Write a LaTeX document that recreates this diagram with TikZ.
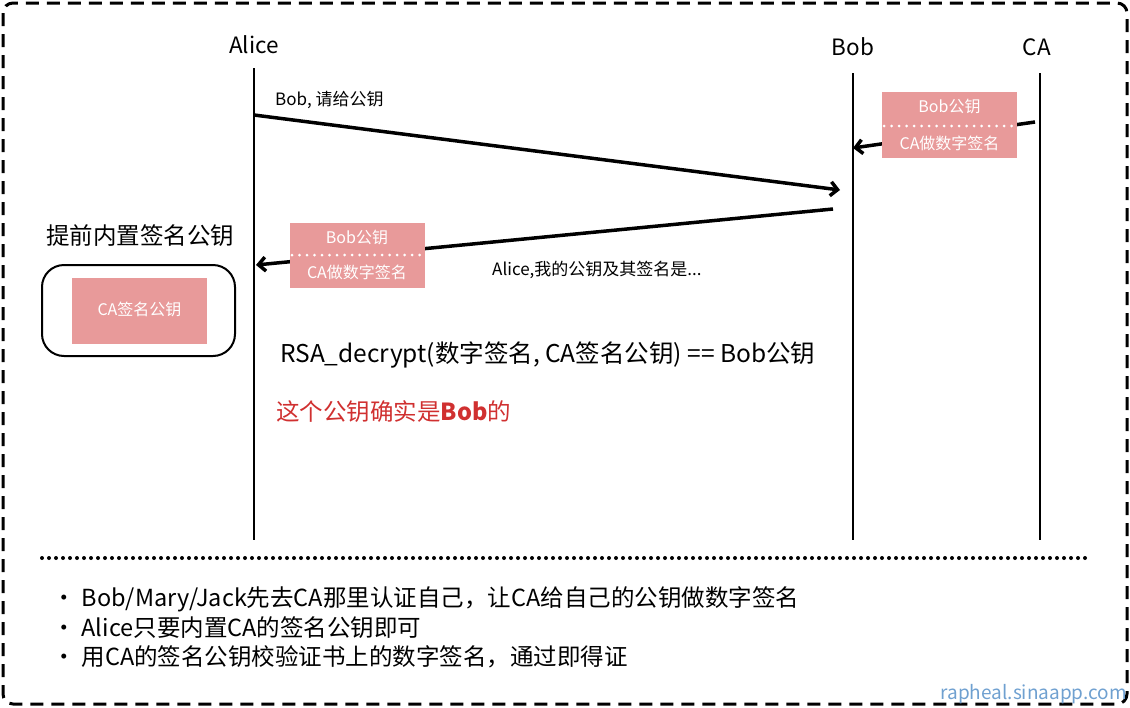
\documentclass[tikz,border=0pt]{standalone}
\usepackage{fontspec}
\setmainfont{Noto Sans CJK SC}
\usetikzlibrary{arrows.meta}
\definecolor{pinkk}{RGB}{232,154,154}
\definecolor{redtxt}{RGB}{208,48,48}
\definecolor{bluetxt}{RGB}{111,160,208}
\tikzset{
  lifeline/.style={line width=2pt},
  msg/.style={line width=3.5pt,-{Straight Barb[length=7pt,width=14pt]}},
  pinkbox/.style={fill=pinkk,draw=none,inner sep=0pt},
  boxtxt/.style={text=white,font=\fontsize{16}{18}\selectfont,inner sep=0pt},
  actor/.style={font=\fontsize{22.5}{26}\selectfont,inner sep=0pt},
  wdots/.style={white,line width=3pt,line cap=round,dash pattern=on 0pt off 7.5pt},
  lbl/.style={font=\fontsize{17}{19}\selectfont,inner sep=0pt,anchor=west},
  big/.style={font=\fontsize{23.5}{27}\selectfont,inner sep=0pt,anchor=west},
}
\begin{document}
\begin{tikzpicture}[x=1pt,y=-1pt]
\useasboundingbox (0,0) rectangle (1130,707);
% outer border
\draw[line width=3pt,dash pattern=on 13pt off 8pt,rounded corners=10pt] (3,3) rectangle (1127,704);
% actors
\node[actor] (alice) at (254,45) {Alice};
\node[actor] (bob) at (853,47) {Bob};
\node[actor] (ca) at (1037,47) {CA};
\coordinate (at) at (254,68); \coordinate (ab) at (254,540);
\coordinate (bt) at (853,73); \coordinate (bb) at (853,540);
\coordinate (ct) at (1040,73); \coordinate (cb) at (1040,540);
\draw[lifeline] (at) -- (ab);
\draw[lifeline] (bt) -- (bb);
\draw[lifeline] (ct) -- (cb);
% message 1
\coordinate (m1s) at (254,115); \coordinate (m1e) at (840,190);
\draw[msg] (m1s) -- (m1e);
\node[lbl] (m1l) at (275,100) {Bob, 请给公钥};
% message CA -> Bob
\coordinate (m3s) at (1035,122); \coordinate (m3e) at (853,148);
\draw[msg] (m3s) -- (m3e);
\node[pinkbox,minimum width=135pt,minimum height=66pt] (k2) at (949.5,125) {};
\draw[wdots] (884,126) -- (1015,126);
\node[boxtxt] (k2a) at (949.5,106) {Bob公钥};
\node[boxtxt] (k2b) at (949.5,143) {CA做数字签名};
% message 2
\coordinate (m2s) at (833,209); \coordinate (m2e) at (256,265);
\draw[msg] (m2s) -- (m2e);
\node[pinkbox,minimum width=135pt,minimum height=65pt] (k1) at (357,255.5) {};
\draw[wdots] (292,255) -- (422,255);
\node[boxtxt] (k1a) at (357,237) {Bob公钥};
\node[boxtxt] (k1b) at (357,272) {CA做数字签名};
\node[lbl] (m2l) at (492,270) {Alice,我的公钥及其签名是...};
% built-in key
\node[font=\fontsize{23.5}{27}\selectfont,inner sep=0pt] (pre) at (140,236) {提前内置签名公钥};
\draw[line width=2pt,rounded corners=22pt] (42,265) rectangle (235,356);
\node[pinkbox,minimum width=135pt,minimum height=66pt] (k0) at (139.5,310.5) {};
\node[boxtxt] (k0t) at (139.5,309) {CA签名公钥};
% formula
\node[big,font=\fontsize{24.5}{28}\selectfont] (rsa) at (280,355) {RSA\_decrypt(数字签名, CA签名公钥) == Bob公钥};
\node[big,text=redtxt] (ok) at (276,412) {这个公钥确实是\textbf{Bob}的};
% separator
\coordinate (sl) at (42,558); \coordinate (sr) at (1088,558);
\draw[line width=4pt,line cap=round,dash pattern=on 0pt off 7pt] (sl) -- (sr);
% bullets
\node[big] (b1) at (52,599) {·\hspace{6pt}Bob/Mary/Jack先去CA那里认证自己，让CA给自己的公钥做数字签名};
\node[big] (b2) at (52,628) {·\hspace{6pt}Alice只要内置CA的签名公钥即可};
\node[big] (b3) at (52,657) {·\hspace{6pt}用CA的签名公钥校验证书上的数字签名，通过即得证};
% watermark
\node[font=\fontsize{19}{21}\selectfont,text=bluetxt,inner sep=0pt,anchor=east] (wm) at (1127,694) {rapheal.sinaapp.com};
\end{tikzpicture}
\end{document}
